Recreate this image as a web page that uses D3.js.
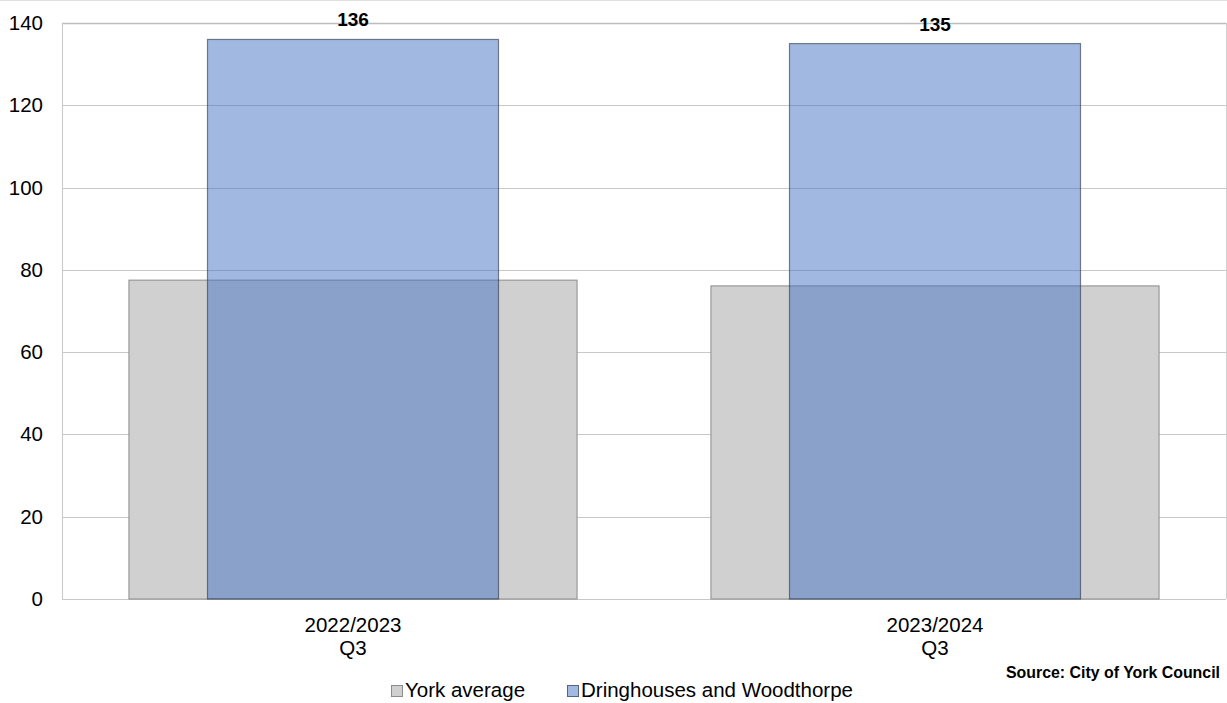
<!DOCTYPE html>
<html><head><meta charset="utf-8">
<script src="https://cdn.jsdelivr.net/npm/d3@7"></script>
<style>body{margin:0;background:#fff;overflow:hidden}svg{display:block;font-family:"Liberation Sans",Arial,sans-serif}</style>
</head><body>
<script>
const categories = [["2022/2023","Q3"],["2023/2024","Q3"]];
const yorkAverage = [77.5, 76.1];
const dringhouses = [136, 135];
const yTicks = [0,20,40,60,80,100,120,140];
const seriesNames = ["York average","Dringhouses and Woodthorpe"];

const W=1227,H=703;
const m={l:62,r:1226,t:23,b:599};
const svg=d3.select("body").append("svg").attr("width",W).attr("height",H);
svg.append("line").attr("x1",0).attr("x2",W).attr("y1",0.5).attr("y2",0.5).attr("stroke","#e0e0e0");

const y=d3.scaleLinear().domain([0,140]).range([m.b,m.t]);
const x=d3.scaleBand().domain(d3.range(categories.length)).range([m.l,m.r]);

// gridlines
svg.append("g").selectAll("line").data(yTicks).join("line")
 .attr("x1",m.l).attr("x2",m.r).attr("y1",d=>Math.round(y(d))+0.5).attr("y2",d=>Math.round(y(d))+0.5)
 .attr("stroke",d=>d===140?"#bdbdbd":"#c8c8c8").attr("stroke-width",d=>d===140?1.5:1);
svg.append("line").attr("x1",m.r+0.5).attr("x2",m.r+0.5).attr("y1",m.t).attr("y2",m.b).attr("stroke","#d0d0d0");
svg.append("line").attr("x1",m.l+0.5).attr("x2",m.l+0.5).attr("y1",m.t).attr("y2",m.b+1).attr("stroke","#c8c8c8");

const bw=x.bandwidth();
const grayW=bw*0.77, blueW=bw*0.5;
svg.append("g").selectAll("rect").data(yorkAverage).join("rect")
 .attr("x",(d,i)=>x(i)+bw/2-grayW/2).attr("width",grayW)
 .attr("y",d=>y(d)).attr("height",d=>y(0)-y(d))
 .attr("fill","#d0d0d0").attr("stroke","#8c8c8c").attr("stroke-width",1);
svg.append("g").selectAll("rect").data(dringhouses).join("rect")
 .attr("x",(d,i)=>x(i)+bw/2-blueW/2).attr("width",blueW)
 .attr("y",d=>y(d)).attr("height",d=>y(0)-y(d))
 .attr("fill","rgba(68,114,196,0.5)").attr("stroke","rgba(40,50,70,0.6)").attr("stroke-width",1.2);

// value labels
svg.append("g").selectAll("text").data(dringhouses).join("text")
 .attr("x",(d,i)=>x(i)+bw/2).attr("y",d=>y(d)-13)
 .attr("text-anchor","middle").attr("font-size",19).attr("font-weight","bold").attr("fill","#000").text(d=>d);

// y axis
const ya=svg.append("g").attr("transform",`translate(${m.l},0)`).call(d3.axisLeft(y).tickValues(yTicks).tickSize(0).tickPadding(19));
ya.select(".domain").remove();
ya.selectAll("text").attr("font-size",20.5).attr("fill","#000").attr("font-family","Liberation Sans, Arial, sans-serif");

// x axis labels
const xl=svg.append("g").selectAll("text").data(categories).join("text")
 .attr("x",(d,i)=>x(i)+bw/2).attr("y",632).attr("text-anchor","middle").attr("font-size",20.5).attr("fill","#000");
xl.each(function(d){const t=d3.select(this);d.forEach((s,k)=>t.append("tspan").attr("x",t.attr("x")).attr("dy",k?23:0).text(s));});

// source
svg.append("text").attr("x",1006).attr("y",678).attr("font-size",15.9).attr("font-weight","bold").text("Source: City of York Council");

// legend
const lg=svg.append("g");
const items=[{n:seriesNames[0],x:391,f:"#d0d0d0",s:"#8c8c8c"},{n:seriesNames[1],x:567,f:"#a2b9e2",s:"#56647e"}];
items.forEach(it=>{
 lg.append("rect").attr("x",it.x+0.5).attr("y",685.5).attr("width",11).attr("height",11).attr("fill",it.f).attr("stroke",it.s);
 lg.append("text").attr("x",it.x+14).attr("y",697).attr("font-size",20.5).text(it.n);
});
</script>
</body></html>
